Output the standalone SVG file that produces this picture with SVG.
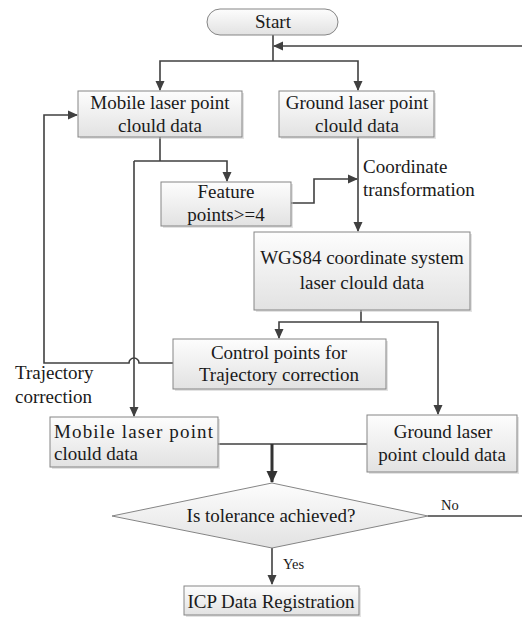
<svg xmlns="http://www.w3.org/2000/svg" width="522" height="617" viewBox="0 0 522 617">
  <defs>
    <linearGradient id="boxFill" x1="0" y1="0" x2="0" y2="1">
      <stop offset="0" stop-color="#fdfdfd"/>
      <stop offset="1" stop-color="#e2e2e2"/>
    </linearGradient>
    <marker id="arrow" markerWidth="10" markerHeight="10" refX="9" refY="5" orient="auto" markerUnits="userSpaceOnUse">
      <path d="M0,0.5 L10,5 L0,9.5 Z" fill="#404040"/>
    </marker>
    <marker id="arrowBig" markerWidth="12" markerHeight="12" refX="11" refY="6" orient="auto" markerUnits="userSpaceOnUse">
      <path d="M0,0.5 L12,6 L0,11.5 Z" fill="#333333"/>
    </marker>
  </defs>
  <style>
    .box { fill: url(#boxFill); stroke: #858585; stroke-width: 1; }
    .shadow { fill: #c8c8c8; opacity: 0.5; }
    .lbl { font-family: "Liberation Serif", "Times New Roman", serif; font-size: 19px; fill: #1a1a1a; text-anchor: middle; }
    .side { font-family: "Liberation Serif", "Times New Roman", serif; font-size: 19px; fill: #1a1a1a; }
    .small { font-family: "Liberation Serif", "Times New Roman", serif; font-size: 14.5px; fill: #1a1a1a; }
    .conn { fill: none; stroke: #404040; stroke-width: 1.6; }
    .bold { fill: none; stroke: #333333; stroke-width: 3; }
  </style>
  <rect width="522" height="617" fill="#ffffff"/>

  <!-- connectors -->
  <g id="connectors">
    <path class="conn" d="M273 35 V61"/>
    <path class="conn" d="M273 61 H160 V90" marker-end="url(#arrow)"/>
    <path class="conn" d="M273 61 H358 V90" marker-end="url(#arrow)"/>
    <path class="conn" d="M522 46 H274" marker-end="url(#arrow)"/>
    <path class="conn" d="M160 137 V161"/>
    <path class="conn" d="M134 161 H227 V181" marker-end="url(#arrow)"/>
    <path class="conn" d="M134 161 V416" marker-end="url(#arrow)"/>
    <path class="conn" d="M291 203 H314 V179 H357" marker-end="url(#arrow)"/>
    <path class="conn" d="M358 137 V231" marker-end="url(#arrow)"/>
    <path class="conn" d="M361 310 V322"/>
    <path class="conn" d="M361 322 H279 V338" marker-end="url(#arrow)"/>
    <path class="conn" d="M361 322 H438 V414" marker-end="url(#arrow)"/>
    <!-- trajectory feedback loop, hopping over the vertical line at x=134 -->
    <path class="conn" d="M173 363 H139 A5 5 0 0 0 129 363 H44 V115 H77" marker-end="url(#arrow)"/>
    <path class="conn" d="M218 444 H367"/>
    <path class="bold" d="M272 444 V482" marker-end="url(#arrowBig)"/>
    <path class="conn" d="M428 516 H522"/>
    <path class="conn" d="M272 548 V584" marker-end="url(#arrow)"/>
  </g>

  <g id="start">
    <rect x="207" y="9" width="131" height="26" rx="13" class="box"/>
    <text x="273" y="28" class="lbl">Start</text>
  </g>

  <g id="mobile-data">
    <rect x="80" y="93" width="164" height="46" class="shadow"/>
    <rect x="78" y="91" width="164" height="46" class="box"/>
    <text x="160" y="109" class="lbl">Mobile laser point</text>
    <text x="160" y="132" class="lbl">clould data</text>
  </g>

  <g id="ground-data">
    <rect x="281" y="93" width="155" height="46" class="shadow"/>
    <rect x="279" y="91" width="155" height="46" class="box"/>
    <text x="357" y="109" class="lbl">Ground laser point</text>
    <text x="357" y="132" class="lbl">clould data</text>
  </g>

  <g id="feature-points">
    <rect x="163" y="184" width="130" height="44" class="shadow"/>
    <rect x="161" y="182" width="130" height="44" class="box"/>
    <text x="226" y="198" class="lbl">Feature</text>
    <text x="226" y="221" class="lbl">points&gt;=4</text>
  </g>

  <g id="coordinate-label">
    <text x="363" y="173" class="side">Coordinate</text>
    <text x="363" y="196" class="side">transformation</text>
  </g>

  <g id="wgs84-data">
    <rect x="256" y="234" width="216" height="78" class="shadow"/>
    <rect x="254" y="232" width="216" height="78" class="box"/>
    <text x="362" y="264" class="lbl">WGS84 coordinate system</text>
    <text x="362" y="289" class="lbl">laser clould data</text>
  </g>

  <g id="control-points">
    <rect x="175" y="341" width="213" height="50" class="shadow"/>
    <rect x="173" y="339" width="213" height="50" class="box"/>
    <text x="279" y="359" class="lbl">Control points for</text>
    <text x="279" y="381" class="lbl">Trajectory correction</text>
  </g>

  <g id="trajectory-label">
    <text x="15" y="379" class="side">Trajectory</text>
    <text x="15" y="403" class="side">correction</text>
  </g>

  <g id="mobile-data-2">
    <rect x="52" y="419" width="168" height="50" class="shadow"/>
    <rect x="50" y="417" width="168" height="50" class="box"/>
    <text x="54" y="438" class="side" textLength="159" lengthAdjust="spacing">Mobile laser point</text>
    <text x="54" y="460" class="side">clould data</text>
  </g>

  <g id="ground-data-2">
    <rect x="369" y="417" width="150" height="57" class="shadow"/>
    <rect x="367" y="415" width="150" height="57" class="box"/>
    <text x="443" y="438" class="lbl">Ground laser</text>
    <text x="442" y="461" class="lbl">point clould data</text>
  </g>

  <g id="tolerance-check">
    <polygon points="272,483 428,516 272,548 112,516" class="box"/>
    <text x="271" y="522" class="lbl">Is tolerance achieved?</text>
    <text x="441" y="510" class="small">No</text>
    <text x="283" y="569" class="small">Yes</text>
  </g>

  <g id="icp-registration">
    <rect x="186" y="588" width="175" height="29" class="shadow"/>
    <rect x="184" y="586" width="175" height="29" class="box"/>
    <text x="271" y="608" class="lbl">ICP Data Registration</text>
  </g>
</svg>
